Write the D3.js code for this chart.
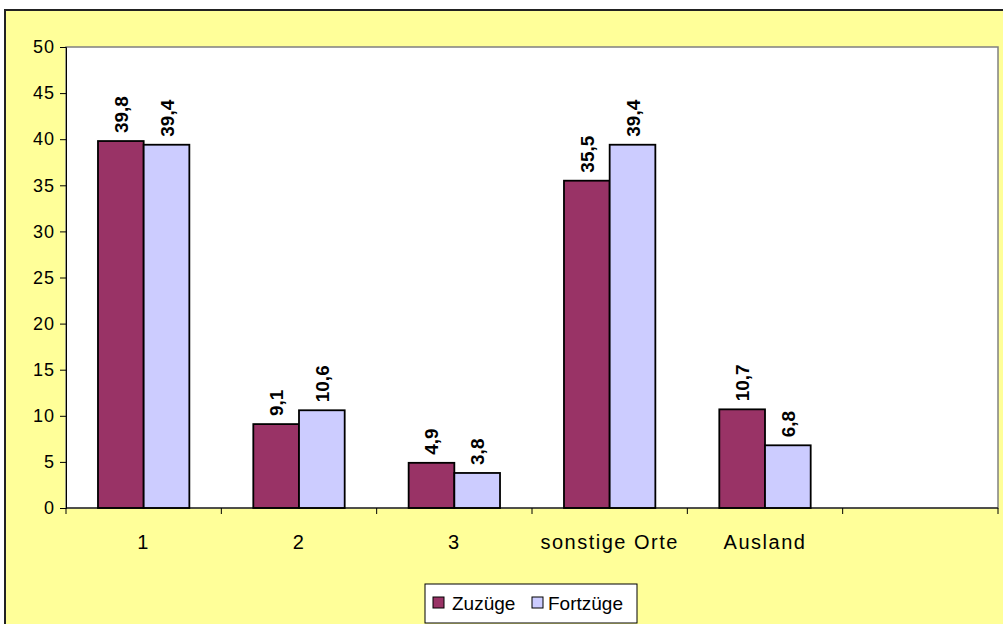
<!DOCTYPE html>
<html>
<head>
<meta charset="utf-8">
<script src="https://cdn.jsdelivr.net/npm/d3@7"></script>
<style>
  html, body { margin: 0; padding: 0; background: #ffffff; }
  svg { display: block; font-family: "Liberation Sans", Arial, sans-serif; }
</style>
</head>
<body>
<svg id="chart" width="1003" height="624"></svg>
<script>
// Wanderungen: Zuzüge und Fortzüge nach Herkunfts-/Zielgebiet (in %)
const categories = ["1", "2", "3", "sonstige Orte", "Ausland", ""];
const zuzuege   = [39.8, 9.1, 4.9, 35.5, 10.7, null];
const fortzuege = [39.4, 10.6, 3.8, 39.4, 6.8, null];
const seriesNames = ["Zuzüge", "Fortzüge"];
const seriesColors = ["#993366", "#CCCCFF"];
const yTicks = [0, 5, 10, 15, 20, 25, 30, 35, 40, 45, 50];

const svg = d3.select("#chart");
const W = 1003, H = 624;

// chart area background with frame
svg.append("rect")
  .attr("x", 5).attr("y", 10).attr("width", W + 10).attr("height", H + 10)
  .attr("fill", "#FFFF99").attr("stroke", "#222").attr("stroke-width", 2);

const plot = { left: 66, top: 47, right: 998, bottom: 508 };

const x = d3.scaleBand().domain(categories.map((c, i) => i))
  .range([plot.left, plot.right]).paddingInner(0).paddingOuter(0);
const y = d3.scaleLinear().domain([0, 50]).range([plot.bottom, plot.top]);

// plot area
svg.append("rect")
  .attr("x", plot.left).attr("y", plot.top)
  .attr("width", plot.right - plot.left).attr("height", plot.bottom - plot.top)
  .attr("fill", "#ffffff").attr("stroke", "#808080").attr("stroke-width", 1.5);

// bars with rotated value labels
const gapRatio = 1.4;
const barW = x.bandwidth() / (2 + gapRatio);
const series = [zuzuege, fortzuege];
series.forEach((vals, s) => {
  const g = svg.append("g");
  vals.forEach((v, i) => {
    if (v == null) return;
    const bx = x(i) + barW * gapRatio / 2 + s * barW;
    g.append("rect")
      .attr("x", bx).attr("y", y(v))
      .attr("width", barW).attr("height", y(0) - y(v))
      .attr("fill", seriesColors[s]).attr("stroke", "#000").attr("stroke-width", 1.8);
    const cx = bx + barW / 2;
    g.append("text")
      .attr("transform", `translate(${cx + 7},${y(v) - 8}) rotate(-90)`)
      .attr("text-anchor", "start")
      .attr("font-size", 19).attr("font-weight", "bold").attr("fill", "#000")
      .text(String(v).replace(".", ","));
  });
});

// y axis
const yAxis = d3.axisLeft(y).tickValues(yTicks).tickSize(6).tickPadding(5);
const gy = svg.append("g").attr("transform", `translate(${plot.left},0)`).call(yAxis);
gy.select(".domain").attr("stroke", "#000").attr("stroke-width", 1);
gy.selectAll(".tick line").attr("stroke", "#000");
gy.selectAll(".tick text")
  .attr("font-size", 18).attr("letter-spacing", "1px")
  .attr("font-family", "Liberation Sans, Arial, sans-serif").attr("fill", "#000");

// x axis
const xEdges = d3.range(categories.length + 1).map(i => plot.left + i * x.step());
svg.append("line")
  .attr("x1", plot.left).attr("x2", plot.right).attr("y1", plot.bottom).attr("y2", plot.bottom)
  .attr("stroke", "#000").attr("stroke-width", 1.2);
svg.append("g").selectAll("line").data(xEdges).join("line")
  .attr("x1", d => d).attr("x2", d => d)
  .attr("y1", plot.bottom).attr("y2", plot.bottom + 6)
  .attr("stroke", "#000");
svg.append("g").selectAll("text").data(categories).join("text")
  .attr("x", (d, i) => x(i) + x.bandwidth() / 2)
  .attr("y", 549)
  .attr("text-anchor", "middle")
  .attr("font-size", 20).attr("letter-spacing", "1.5px").attr("fill", "#000")
  .text(d => d);

// legend
const lg = svg.append("g");
lg.append("rect")
  .attr("x", 425).attr("y", 584).attr("width", 212).attr("height", 39)
  .attr("fill", "#fff").attr("stroke", "#000").attr("stroke-width", 1);
const legendItems = [
  { name: seriesNames[0], color: seriesColors[0], sx: 433, tx: 452 },
  { name: seriesNames[1], color: seriesColors[1], sx: 532, tx: 548 }
];
legendItems.forEach(it => {
  lg.append("rect").attr("x", it.sx).attr("y", 597).attr("width", 11).attr("height", 11)
    .attr("fill", it.color).attr("stroke", "#000").attr("stroke-width", 1);
  lg.append("text").attr("x", it.tx).attr("y", 610)
    .attr("font-size", 19).attr("fill", "#000").text(it.name);
});
</script>
</body>
</html>
